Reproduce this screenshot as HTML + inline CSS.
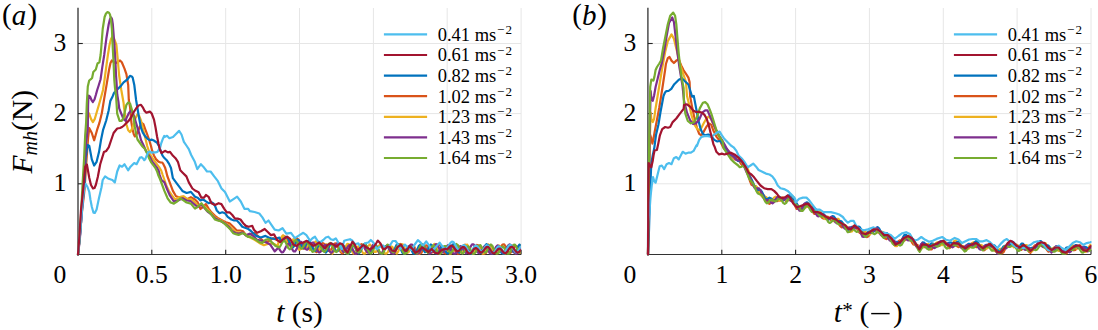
<!DOCTYPE html>
<html><head><meta charset="utf-8"><style>
html,body{margin:0;padding:0;background:#fff;}
body{width:1098px;height:330px;overflow:hidden;}
svg{display:block;}
text{font-family:"Liberation Serif",serif;fill:#000;}
.tk{font-size:25.6px;}
.lg{font-size:18.5px;}
.sup{font-size:13px;}
.pl{font-size:29px;}
.al{font-size:29.5px;}
.sub{font-size:20px;}
.ast{font-size:21px;}
.gr{stroke:#e6e6e6;stroke-width:1;}
.axv{stroke:#404040;stroke-width:1.4;}
.axh{stroke:#333;stroke-width:1.1;}
.tkm{stroke:#262626;stroke-width:1.1;}
</style></head><body>
<svg width="1098" height="330" viewBox="0 0 1098 330">
<line x1="78.0" y1="43.5" x2="521.0" y2="43.5" class="gr"/>
<line x1="78.0" y1="113.6" x2="521.0" y2="113.6" class="gr"/>
<line x1="78.0" y1="183.8" x2="521.0" y2="183.8" class="gr"/>
<line x1="151.8" y1="8" x2="151.8" y2="254.5" class="gr"/>
<line x1="225.7" y1="8" x2="225.7" y2="254.5" class="gr"/>
<line x1="299.5" y1="8" x2="299.5" y2="254.5" class="gr"/>
<line x1="373.4" y1="8" x2="373.4" y2="254.5" class="gr"/>
<line x1="447.2" y1="8" x2="447.2" y2="254.5" class="gr"/>
<line x1="521.1" y1="8" x2="521.1" y2="254.5" class="gr"/>
<line x1="648.0" y1="43.5" x2="1091.0" y2="43.5" class="gr"/>
<line x1="648.0" y1="113.6" x2="1091.0" y2="113.6" class="gr"/>
<line x1="648.0" y1="183.8" x2="1091.0" y2="183.8" class="gr"/>
<line x1="721.8" y1="8" x2="721.8" y2="254.5" class="gr"/>
<line x1="795.6" y1="8" x2="795.6" y2="254.5" class="gr"/>
<line x1="869.4" y1="8" x2="869.4" y2="254.5" class="gr"/>
<line x1="943.3" y1="8" x2="943.3" y2="254.5" class="gr"/>
<line x1="1017.1" y1="8" x2="1017.1" y2="254.5" class="gr"/>
<line x1="1091.0" y1="8" x2="1091.0" y2="254.5" class="gr"/>
<line x1="78.0" y1="7.8" x2="78.0" y2="254.5" class="axv"/>
<line x1="77.5" y1="254.5" x2="521.1" y2="254.5" class="axh"/>
<line x1="78.0" y1="43.5" x2="82.8" y2="43.5" class="tkm"/>
<line x1="78.0" y1="113.6" x2="82.8" y2="113.6" class="tkm"/>
<line x1="78.0" y1="183.8" x2="82.8" y2="183.8" class="tkm"/>
<line x1="151.8" y1="254.5" x2="151.8" y2="249.7" class="tkm"/>
<line x1="225.7" y1="254.5" x2="225.7" y2="249.7" class="tkm"/>
<line x1="299.5" y1="254.5" x2="299.5" y2="249.7" class="tkm"/>
<line x1="373.4" y1="254.5" x2="373.4" y2="249.7" class="tkm"/>
<line x1="447.2" y1="254.5" x2="447.2" y2="249.7" class="tkm"/>
<line x1="521.1" y1="254.5" x2="521.1" y2="249.7" class="tkm"/>
<line x1="647.9" y1="7.8" x2="647.9" y2="254.5" class="axv"/>
<line x1="647.4" y1="254.5" x2="1091.0" y2="254.5" class="axh"/>
<line x1="647.9" y1="43.5" x2="652.7" y2="43.5" class="tkm"/>
<line x1="647.9" y1="113.6" x2="652.7" y2="113.6" class="tkm"/>
<line x1="647.9" y1="183.8" x2="652.7" y2="183.8" class="tkm"/>
<line x1="721.8" y1="254.5" x2="721.8" y2="249.7" class="tkm"/>
<line x1="795.6" y1="254.5" x2="795.6" y2="249.7" class="tkm"/>
<line x1="869.4" y1="254.5" x2="869.4" y2="249.7" class="tkm"/>
<line x1="943.3" y1="254.5" x2="943.3" y2="249.7" class="tkm"/>
<line x1="1017.1" y1="254.5" x2="1017.1" y2="249.7" class="tkm"/>
<line x1="1091.0" y1="254.5" x2="1091.0" y2="249.7" class="tkm"/>
<g fill="none" stroke-width="2.2" stroke-linejoin="round" stroke-linecap="round">
<clipPath id="cl"><rect x="70" y="0" width="450.8" height="260"/></clipPath><clipPath id="cr"><rect x="640" y="0" width="451.5" height="260"/></clipPath>
<g clip-path="url(#cl)"><path d="M78.0 254.3 L80.0 235.0 L82.0 212.0 L84.5 190.0 L86.5 160.0 L88.1 137.9 L89.3 128.2 L91.8 133.0 L94.2 140.3 L97.0 130.2 L99.4 122.9 L101.8 113.2 L104.2 98.6 L106.7 84.1 L109.1 69.5 L110.5 63.0 L111.8 60.5 L113.6 62.0 L115.5 63.2 L117.3 62.3 L120.0 60.5 L121.8 62.3 L124.5 68.6 L126.4 74.1 L128.2 85.0 L128.8 100.0 L130.1 107.3 L130.7 114.5 L131.3 121.8 L132.5 129.1 L133.7 133.9 L134.9 136.4 L136.1 135.2 L137.9 131.5 L139.8 126.7 L141.6 123.0 L143.4 124.2 L145.2 129.1 L147.0 133.9 L148.8 138.8 L150.9 145.7 L152.1 150.5 L153.9 155.4 L155.9 159.1 L158.2 161.4 L160.5 162.5 L162.3 162.5 L163.5 164.4 L165.0 167.4 L166.1 171.2 L167.3 176.0 L169.7 182.4 L172.9 190.9 L176.0 196.2 L179.2 197.2 L182.4 196.8 L186.6 199.4 L190.9 197.2 L195.0 199.5 L197.7 202.3 L200.5 209.0 L203.2 206.8 L205.9 204.1 L208.6 208.6 L211.4 212.3 L215.0 215.9 L218.6 218.6 L222.3 220.5 L225.9 222.3 L229.5 223.2 L233.2 226.8 L236.8 230.5 L240.5 230.5 L243.2 231.4 L245.9 235.0 L250.0 234.4 L254.6 232.8 L259.3 237.5 L263.9 241.3 L268.5 241.3 L273.2 238.2 L277.8 240.5 L279.0 241.0 L280.5 239.2 L282.0 236.9 L283.5 235.7 L285.0 236.5 L286.5 239.1 L288.0 242.4 L289.5 244.9 L291.0 245.5 L292.5 243.9 L294.0 241.2 L295.5 238.8 L297.0 238.2 L298.5 239.8 L300.0 243.1 L301.5 246.6 L303.0 248.7 L304.5 248.7 L306.0 246.8 L307.5 244.3 L309.0 242.6 L310.5 242.9 L312.0 245.2 L313.5 248.5 L315.0 251.2 L316.5 252.1 L318.0 250.7 L319.5 247.7 L321.0 244.7 L322.5 243.1 L324.0 243.7 L325.5 246.2 L327.0 249.1 L328.5 251.0 L330.0 251.0 L331.5 248.9 L333.0 246.0 L334.5 243.7 L336.0 243.4 L337.5 245.4 L339.0 248.7 L340.5 251.8 L342.0 253.4 L343.5 252.7 L345.0 250.3 L346.5 247.5 L348.0 245.9 L349.5 246.2 L351.0 248.4 L352.5 251.4 L354.0 253.5 L355.5 253.6 L357.0 251.5 L358.5 248.3 L360.0 245.3 L361.5 244.1 L363.0 245.1 L364.5 247.7 L366.0 250.6 L367.5 252.3 L369.0 251.9 L370.5 249.7 L372.0 246.9 L373.5 245.0 L375.0 245.2 L376.5 247.5 L378.0 250.9 L379.5 253.6 L381.0 253.6 L382.5 253.3 L384.0 250.5 L385.5 247.5 L387.0 245.9 L388.5 246.5 L390.0 248.8 L391.5 251.5 L393.0 253.1 L394.5 252.7 L396.0 250.3 L397.5 247.1 L399.0 244.5 L400.5 243.9 L402.0 245.5 L403.5 248.6 L405.0 251.5 L406.5 253.0 L408.0 252.3 L409.5 250.0 L411.0 247.3 L412.5 245.8 L414.0 246.4 L415.5 248.9 L417.0 252.0 L418.5 253.6 L420.0 253.6 L421.5 252.7 L423.0 249.5 L424.5 246.6 L426.0 245.3 L427.5 246.1 L429.0 248.6 L430.5 251.3 L432.0 252.6 L433.5 251.9 L435.0 249.4 L436.5 246.4 L438.0 244.4 L439.5 244.4 L441.0 246.6 L442.5 250.0 L444.0 252.8 L445.5 253.6 L447.0 252.9 L448.5 250.3 L450.0 247.6 L451.5 246.3 L453.0 247.1 L454.5 249.6 L456.0 252.6 L457.5 253.6 L459.0 253.6 L460.5 251.5 L462.0 248.2 L463.5 245.4 L465.0 244.6 L466.5 245.9 L468.0 248.7 L469.5 251.4 L471.0 252.6 L472.5 251.7 L474.0 249.2 L475.5 246.4 L477.0 244.9 L478.5 245.5 L480.0 248.1 L481.5 251.5 L483.0 253.6 L484.5 253.6 L486.0 253.0 L487.5 250.1 L489.0 247.4 L490.5 246.3 L492.0 247.3 L493.5 249.8 L495.0 252.5 L496.5 253.6 L498.0 252.9 L499.5 250.2 L501.0 246.9 L502.5 244.5 L504.0 244.3 L505.5 246.2 L507.0 249.3 L508.5 252.1 L510.0 253.1 L511.5 251.9 L513.0 249.4 L514.5 246.8 L516.0 245.8 L517.5 246.8 L519.0 249.6 L520.5 252.8" stroke="#D95319"/>
<path d="M78.0 254.3 L80.0 232.0 L82.0 205.0 L84.5 170.0 L86.5 145.0 L87.2 130.0 L87.6 118.0 L88.1 112.4 L89.3 114.2 L91.1 119.1 L92.9 122.1 L94.7 119.1 L96.5 113.0 L99.0 104.5 L101.4 96.0 L103.0 90.0 L104.5 80.0 L106.2 67.1 L107.9 55.0 L109.5 45.0 L111.0 39.0 L112.4 36.4 L114.2 39.0 L116.4 45.0 L117.8 60.0 L119.1 75.0 L121.3 90.0 L123.6 103.0 L124.0 107.3 L126.4 124.2 L128.2 130.3 L130.1 132.1 L131.9 129.1 L133.7 124.2 L135.5 118.2 L137.3 114.5 L139.2 115.8 L141.0 120.6 L142.8 127.9 L144.6 135.2 L145.8 140.0 L147.2 146.0 L149.8 153.8 L152.1 157.6 L154.8 161.4 L157.0 164.4 L159.3 167.4 L161.2 170.5 L162.7 175.0 L164.5 180.0 L166.5 186.0 L169.0 191.0 L171.8 195.1 L175.0 199.4 L179.2 197.2 L183.5 196.2 L187.7 199.4 L191.0 199.0 L195.0 202.5 L198.5 206.0 L201.5 205.0 L204.5 206.5 L208.0 210.0 L211.5 213.5 L215.0 217.5 L218.5 219.5 L222.0 221.0 L225.5 223.5 L229.0 225.5 L232.5 229.5 L236.0 232.0 L240.0 232.5 L243.5 233.0 L246.5 236.0 L250.0 237.5 L254.6 239.8 L259.3 242.9 L263.9 245.2 L268.5 243.6 L273.2 243.6 L277.8 246.0 L278.3 243.0 L279.8 241.0 L281.3 237.6 L282.8 235.5 L284.3 236.5 L285.8 240.0 L287.3 243.7 L288.8 245.4 L290.3 244.1 L291.8 241.2 L293.3 239.1 L294.8 239.9 L296.3 243.4 L297.8 247.6 L299.3 249.9 L300.8 249.0 L302.3 245.9 L303.8 242.9 L305.3 242.3 L306.8 244.6 L308.3 248.0 L309.8 250.1 L311.3 249.3 L312.8 245.9 L314.3 242.5 L315.8 241.3 L317.3 243.3 L318.8 247.2 L320.3 250.3 L321.8 250.8 L323.3 248.5 L324.8 245.4 L326.3 244.2 L327.8 245.9 L329.3 249.7 L330.8 253.0 L332.3 253.6 L333.8 251.1 L335.3 247.3 L336.8 244.7 L338.3 245.1 L339.8 247.9 L341.3 251.0 L342.8 252.0 L344.3 250.0 L345.8 246.4 L347.3 243.8 L348.8 244.0 L350.3 247.2 L351.8 251.1 L353.3 253.3 L354.8 252.5 L356.3 249.4 L357.8 246.6 L359.3 246.2 L360.8 248.6 L362.3 252.2 L363.8 253.6 L365.3 253.3 L366.8 249.7 L368.3 246.0 L369.8 244.4 L371.3 246.0 L372.8 249.3 L374.3 252.0 L375.8 251.9 L377.3 249.3 L378.8 245.9 L380.3 244.5 L381.8 246.1 L383.3 250.0 L384.8 253.5 L386.3 253.6 L387.8 252.2 L389.3 248.6 L390.8 246.3 L392.3 246.8 L393.8 249.7 L395.3 252.7 L396.8 253.6 L398.3 251.3 L399.8 247.4 L401.3 244.4 L402.8 244.3 L404.3 247.1 L405.8 250.7 L407.3 252.7 L408.8 251.7 L410.3 248.6 L411.8 245.9 L413.3 245.7 L414.8 248.4 L416.3 252.3 L417.8 253.6 L419.3 253.6 L420.8 250.7 L422.3 247.1 L423.8 245.6 L425.3 247.1 L426.8 250.3 L428.3 252.7 L429.8 252.4 L431.3 249.3 L432.8 245.7 L434.3 243.9 L435.8 245.4 L437.3 249.1 L438.8 252.5 L440.3 253.5 L441.8 251.5 L443.3 248.2 L444.8 246.2 L446.3 247.1 L447.8 250.3 L449.3 253.6 L450.8 253.6 L452.3 252.5 L453.8 248.6 L455.3 245.5 L456.8 245.1 L458.3 247.6 L459.8 250.9 L461.3 252.6 L462.8 251.3 L464.3 247.9 L465.8 245.0 L467.3 244.7 L468.8 247.5 L470.3 251.5 L471.8 253.6 L473.3 253.6 L474.8 250.9 L476.3 247.6 L477.8 246.4 L479.3 248.1 L480.8 251.5 L482.3 253.6 L483.8 253.5 L485.3 250.3 L486.8 246.4 L488.3 244.3 L489.8 245.4 L491.3 248.8 L492.8 251.9 L494.3 252.7 L495.8 250.6 L497.3 247.3 L498.8 245.4 L500.3 246.4 L501.8 249.9 L503.3 253.6 L504.8 253.6 L506.3 253.2 L507.8 249.5 L509.3 246.6 L510.8 246.3 L512.3 248.8 L513.8 252.0 L515.3 253.4 L516.8 251.8 L518.3 248.1 L519.8 244.9" stroke="#EDB120"/>
<path d="M78.0 254.3 L80.0 235.0 L82.0 210.0 L84.5 183.6 L85.7 157.0 L87.6 144.8 L89.3 146.0 L91.8 159.4 L94.2 165.5 L96.6 161.8 L99.0 152.1 L101.0 140.0 L103.0 130.2 L106.2 120.5 L108.6 110.8 L110.3 101.1 L112.7 96.2 L114.0 93.0 L116.4 90.2 L117.3 89.5 L120.9 85.9 L123.6 82.3 L127.3 79.5 L130.0 75.9 L131.8 76.5 L132.7 77.7 L134.3 85.0 L135.5 95.0 L136.1 100.0 L137.3 107.3 L138.5 114.5 L139.8 121.8 L141.0 127.9 L142.8 132.7 L145.2 136.4 L147.6 138.8 L149.7 140.2 L151.5 139.6 L153.3 140.2 L155.2 141.5 L157.0 142.7 L158.8 145.7 L160.6 150.5 L162.4 155.4 L164.2 157.8 L166.7 160.2 L169.1 163.9 L171.0 168.0 L172.9 178.2 L176.0 182.4 L179.2 186.6 L182.4 190.9 L186.6 193.0 L190.9 191.9 L195.0 196.8 L197.7 197.7 L200.5 200.5 L203.2 199.5 L205.9 201.4 L208.6 203.2 L211.4 202.3 L213.2 203.2 L215.0 205.9 L216.8 210.5 L219.5 213.2 L222.3 212.3 L225.0 213.2 L227.7 216.8 L231.4 219.5 L234.1 220.5 L236.8 220.5 L239.5 223.2 L242.3 226.8 L245.0 227.7 L247.7 228.6 L251.0 231.0 L256.2 235.9 L260.8 237.5 L265.5 235.9 L270.1 238.2 L274.7 239.0 L279.4 237.5 L280.9 240.9 L282.4 241.4 L283.9 239.5 L285.4 237.3 L286.9 236.9 L288.4 239.2 L289.9 243.3 L291.4 246.8 L292.9 247.7 L294.4 245.7 L295.9 242.2 L297.4 239.9 L298.9 240.2 L300.4 243.1 L301.9 246.5 L303.4 248.2 L304.9 247.0 L306.4 243.9 L307.9 241.1 L309.4 240.7 L310.9 243.3 L312.4 247.3 L313.9 250.5 L315.4 251.0 L316.9 248.7 L318.4 245.6 L319.9 244.0 L321.4 245.2 L322.9 248.5 L324.4 251.7 L325.9 252.7 L327.4 250.7 L328.9 247.0 L330.4 243.9 L331.9 243.5 L333.4 245.8 L334.9 249.2 L336.4 251.4 L337.9 250.9 L339.4 248.1 L340.9 245.1 L342.4 244.1 L343.9 246.1 L345.4 249.9 L346.9 253.2 L348.4 253.6 L349.9 251.9 L351.4 248.4 L352.9 246.0 L354.4 246.2 L355.9 248.9 L357.4 252.0 L358.9 253.3 L360.4 251.7 L361.9 248.1 L363.4 244.7 L364.9 243.8 L366.4 245.9 L367.9 249.5 L369.4 252.3 L370.9 252.5 L372.4 250.1 L373.9 247.0 L375.4 245.5 L376.9 246.8 L378.4 250.2 L379.9 253.6 L381.4 253.6 L382.9 252.8 L384.4 249.1 L385.9 246.0 L387.4 245.5 L388.9 247.6 L390.4 250.8 L391.9 252.7 L393.4 251.7 L394.9 248.5 L396.4 245.2 L397.9 243.9 L399.4 245.7 L400.9 249.4 L402.4 252.7 L403.9 253.6 L405.4 251.7 L406.9 248.4 L408.4 246.3 L409.9 246.8 L411.4 249.7 L412.9 253.1 L414.4 253.6 L415.9 252.9 L417.4 249.3 L418.9 245.8 L420.4 244.6 L421.9 246.4 L423.4 249.7 L424.9 252.1 L426.4 252.0 L427.9 249.4 L429.4 246.2 L430.9 244.5 L432.4 245.9 L433.9 249.5 L435.4 253.1 L436.9 253.6 L438.4 252.9 L439.9 249.6 L441.4 246.8 L442.9 246.5 L444.4 248.8 L445.9 252.0 L447.4 253.6 L448.9 252.8 L450.4 249.3 L451.9 245.7 L453.4 244.1 L454.9 245.5 L456.4 248.9 L457.9 252.0 L459.4 252.7 L460.9 250.7 L462.4 247.5 L463.9 245.5 L465.4 246.3 L466.9 249.5 L468.4 253.2 L469.9 253.6 L471.4 253.6 L472.9 250.3 L474.4 246.9 L475.9 245.8 L477.4 247.5 L478.9 250.7 L480.4 252.9 L481.9 252.5 L483.4 249.6 L484.9 246.0 L486.4 244.1 L487.9 245.2 L489.4 248.6 L490.9 252.1 L492.4 253.6 L493.9 252.2 L495.4 249.0 L496.9 246.6 L498.4 246.6 L499.9 249.2 L501.4 252.8 L502.9 253.6 L504.4 253.6 L505.9 250.6 L507.4 246.9 L508.9 245.1 L510.4 246.3 L511.9 249.4 L513.4 252.1 L514.9 252.5 L516.4 250.2 L517.9 246.8 L519.4 244.6 L520.9 245.3" stroke="#0072BD"/>
<path d="M78.0 254.3 L79.8 240.0 L81.5 215.0 L83.5 185.0 L85.5 150.0 L87.8 127.7 L88.1 105.0 L88.3 100.0 L88.7 95.5 L90.0 96.5 L91.5 100.0 L92.9 102.0 L94.5 99.5 L95.9 94.8 L97.2 90.0 L98.5 86.0 L100.6 79.2 L102.3 67.1 L104.2 55.0 L106.3 38.8 L108.7 24.2 L110.0 19.0 L111.2 17.5 L112.0 19.0 L112.8 24.2 L114.3 43.6 L115.5 63.0 L116.0 75.0 L116.5 82.0 L117.2 94.2 L118.4 101.5 L119.2 108.3 L121.0 113.0 L122.5 116.7 L124.0 119.5 L125.8 120.8 L126.4 118.2 L128.8 113.3 L130.7 110.9 L132.5 112.1 L134.3 117.0 L136.1 123.0 L137.9 129.1 L139.8 135.2 L141.0 140.0 L143.6 145.5 L146.0 151.0 L149.8 156.8 L152.1 161.4 L154.4 164.4 L156.7 167.4 L158.6 170.5 L159.7 175.0 L161.5 180.0 L164.4 182.4 L167.0 189.0 L169.7 195.1 L173.9 201.5 L178.2 200.4 L182.4 198.3 L186.5 200.5 L190.5 201.0 L194.0 204.0 L197.5 207.0 L201.0 204.5 L204.5 208.0 L207.5 211.5 L211.0 214.0 L214.5 218.0 L218.0 220.0 L221.5 221.5 L225.0 223.5 L228.5 226.5 L232.0 231.0 L235.5 233.0 L239.0 233.5 L242.5 232.5 L246.0 235.5 L250.0 233.6 L253.1 235.9 L257.0 239.8 L260.8 240.5 L265.5 242.1 L270.1 244.4 L274.7 251.4 L278.6 247.5 L280.1 250.4 L281.6 252.4 L283.1 252.1 L284.6 249.8 L286.1 246.5 L287.6 244.2 L289.1 244.1 L290.6 246.1 L292.1 249.1 L293.6 251.3 L295.1 251.4 L296.6 249.1 L298.1 245.6 L299.6 242.7 L301.1 241.8 L302.6 243.3 L304.1 246.3 L305.6 249.0 L307.1 249.8 L308.6 248.4 L310.1 245.6 L311.6 243.0 L313.1 242.4 L314.6 244.1 L316.1 247.6 L317.6 251.0 L319.1 252.6 L320.6 251.8 L322.1 249.2 L323.6 246.3 L325.1 244.8 L326.6 245.7 L328.1 248.4 L329.6 251.3 L331.1 252.8 L332.6 251.8 L334.1 248.9 L335.6 245.5 L337.1 243.4 L338.6 243.7 L340.1 246.2 L341.6 249.5 L343.1 251.8 L344.6 251.9 L346.1 249.9 L347.6 247.1 L349.1 245.1 L350.6 245.4 L352.1 247.9 L353.6 251.4 L355.1 253.6 L356.6 253.6 L358.1 252.5 L359.6 249.2 L361.1 246.4 L362.6 245.5 L364.1 246.9 L365.6 249.7 L367.1 252.2 L368.6 252.7 L370.1 250.9 L371.6 247.7 L373.1 244.8 L374.6 243.8 L376.1 245.3 L377.6 248.5 L379.1 251.7 L380.6 253.4 L382.1 252.6 L383.6 250.0 L385.1 247.3 L386.6 246.0 L388.1 247.0 L389.6 249.9 L391.1 252.9 L392.6 253.6 L394.1 253.6 L395.6 250.8 L397.1 247.3 L398.6 245.0 L400.1 245.1 L401.6 247.3 L403.1 250.3 L404.6 252.2 L406.1 252.0 L407.6 249.7 L409.1 246.6 L410.6 244.6 L412.1 244.7 L413.6 247.2 L415.1 250.8 L416.6 253.6 L418.1 253.6 L419.6 252.5 L421.1 249.5 L422.6 246.9 L424.1 246.3 L425.6 248.0 L427.1 250.9 L428.6 253.4 L430.1 253.6 L431.6 252.0 L433.1 248.6 L434.6 245.4 L436.1 244.1 L437.6 245.3 L439.1 248.2 L440.6 251.2 L442.1 252.6 L443.6 251.7 L445.1 249.1 L446.6 246.4 L448.1 245.2 L449.6 246.4 L451.1 249.5 L452.6 252.9 L454.1 253.6 L455.6 253.6 L457.1 251.6 L458.6 248.3 L460.1 246.2 L461.6 246.3 L463.1 248.5 L464.6 251.4 L466.1 253.2 L467.6 252.7 L469.1 250.1 L470.6 246.7 L472.1 244.3 L473.6 244.3 L475.1 246.5 L476.6 249.9 L478.1 252.7 L479.6 253.3 L481.1 251.7 L482.6 248.8 L484.1 246.5 L485.6 246.2 L487.1 248.2 L488.6 251.4 L490.1 253.6 L491.6 253.6 L493.1 253.1 L494.6 249.8 L496.1 246.7 L497.6 245.3 L499.1 246.3 L500.6 249.0 L502.1 251.7 L503.6 252.8 L505.1 251.6 L506.6 248.7 L508.1 245.7 L509.6 244.4 L511.1 245.5 L512.6 248.6 L514.1 252.0 L515.6 253.6 L517.1 253.6 L518.6 251.4 L520.1 248.4" stroke="#7E2F8E"/>
<path d="M78.0 254.3 L79.5 240.0 L81.0 215.0 L82.5 185.0 L84.0 160.0 L85.2 135.0 L86.1 122.9 L86.8 103.5 L87.8 86.5 L89.2 80.5 L90.9 79.2 L92.1 78.0 L93.3 72.0 L95.8 69.5 L97.5 63.5 L99.4 62.3 L100.6 55.0 L101.2 48.5 L102.7 29.0 L104.6 17.0 L106.0 13.5 L107.5 12.1 L109.0 12.8 L110.0 14.5 L111.0 20.0 L111.9 29.0 L112.8 48.5 L113.6 63.0 L114.3 80.0 L115.0 88.0 L116.0 95.0 L117.2 113.6 L119.6 120.9 L121.5 121.0 L123.3 118.5 L126.4 104.8 L128.2 102.4 L130.1 103.6 L131.9 109.7 L133.7 118.2 L134.9 126.7 L136.1 133.9 L137.5 139.5 L140.0 143.0 L142.5 146.5 L145.0 149.0 L147.6 154.5 L149.1 158.3 L151.0 162.1 L153.3 165.2 L155.5 168.2 L157.0 171.2 L158.2 175.0 L160.0 179.0 L161.5 183.0 L164.4 190.9 L167.6 198.3 L170.7 202.5 L173.9 203.6 L177.1 201.5 L180.3 198.3 L183.5 200.4 L186.6 202.5 L190.9 203.6 L195.0 208.6 L197.7 206.8 L201.4 203.2 L204.1 206.8 L206.8 210.5 L209.5 212.3 L212.3 215.9 L215.0 219.5 L217.7 220.5 L221.4 221.4 L225.0 224.1 L227.7 226.8 L230.5 229.5 L233.2 233.2 L235.9 234.1 L238.6 235.0 L242.3 233.2 L245.0 234.1 L247.7 236.8 L250.0 236.7 L253.1 238.2 L256.2 239.8 L259.3 242.1 L262.4 242.9 L265.5 239.8 L268.5 239.0 L272.4 242.9 L275.5 246.0 L279.4 247.5 L280.9 245.1 L282.4 242.1 L283.9 240.7 L285.4 241.9 L286.9 245.1 L288.4 248.2 L289.9 249.3 L291.4 247.6 L292.9 244.2 L294.4 241.0 L295.9 240.1 L297.4 241.9 L298.9 245.3 L300.4 248.1 L301.9 248.7 L303.4 246.7 L304.9 243.7 L306.4 241.7 L307.9 242.4 L309.4 245.5 L310.9 249.3 L312.4 251.8 L313.9 251.5 L315.4 248.9 L316.9 245.6 L318.4 244.0 L319.9 244.9 L321.4 247.9 L322.9 250.9 L324.4 251.9 L325.9 250.2 L327.4 246.7 L328.9 243.7 L330.4 242.9 L331.9 244.8 L333.4 248.4 L334.9 251.3 L336.4 252.0 L337.9 250.1 L339.4 247.1 L340.9 245.1 L342.4 245.6 L343.9 248.4 L345.4 252.0 L346.9 253.6 L348.4 253.6 L349.9 250.6 L351.4 247.0 L352.9 245.1 L354.4 245.8 L355.9 248.6 L357.4 251.5 L358.9 252.5 L360.4 250.9 L361.9 247.5 L363.4 244.6 L364.9 243.9 L366.4 246.1 L367.9 249.8 L369.4 252.8 L370.9 253.5 L372.4 251.6 L373.9 248.5 L375.4 246.3 L376.9 246.5 L378.4 249.2 L379.9 252.5 L381.4 253.6 L382.9 253.5 L384.4 250.3 L385.9 246.6 L387.4 244.6 L388.9 245.3 L390.4 248.2 L391.9 251.2 L393.4 252.4 L394.9 250.9 L396.4 247.8 L397.9 245.1 L399.4 244.7 L400.9 246.9 L402.4 250.7 L403.9 253.6 L405.4 253.6 L406.9 252.2 L408.4 248.9 L409.9 246.5 L411.4 246.5 L412.9 248.9 L414.4 252.0 L415.9 253.6 L417.4 252.7 L418.9 249.5 L420.4 245.9 L421.9 244.0 L423.4 245.0 L424.9 248.0 L426.4 251.3 L427.9 252.8 L429.4 251.5 L430.9 248.6 L432.4 246.0 L433.9 245.6 L435.4 247.8 L436.9 251.4 L438.4 253.6 L439.9 253.6 L441.4 252.4 L442.9 248.8 L444.4 246.1 L445.9 246.0 L447.4 248.2 L448.9 251.3 L450.4 253.0 L451.9 252.1 L453.4 249.0 L454.9 245.6 L456.4 244.0 L457.9 245.2 L459.4 248.5 L460.9 252.0 L462.4 253.6 L463.9 252.4 L465.4 249.5 L466.9 246.8 L468.4 246.3 L469.9 248.3 L471.4 251.7 L472.9 253.6 L474.4 253.6 L475.9 252.0 L477.4 248.2 L478.9 245.5 L480.4 245.2 L481.9 247.5 L483.4 250.7 L484.9 252.6 L486.4 251.9 L487.9 249.1 L489.4 245.9 L490.9 244.5 L492.4 245.9 L493.9 249.3 L495.4 252.9 L496.9 253.6 L498.4 253.2 L499.9 250.2 L501.4 247.3 L502.9 246.5 L504.4 248.3 L505.9 251.5 L507.4 253.6 L508.9 253.6 L510.4 251.3 L511.9 247.5 L513.4 244.8 L514.9 244.7 L516.4 247.1 L517.9 250.5 L519.4 252.7 L520.9 252.2" stroke="#77AC30"/>
<path d="M78.0 254.3 L80.0 235.0 L82.0 210.0 L83.3 194.5 L84.5 187.0 L85.7 184.0 L87.5 187.0 L89.3 192.0 L90.5 200.0 L91.8 206.7 L93.5 212.7 L94.8 213.0 L96.6 209.5 L99.0 198.0 L101.5 187.3 L102.7 180.0 L105.1 176.4 L108.7 178.8 L112.4 180.0 L114.8 182.4 L117.2 171.5 L119.6 165.5 L122.1 166.7 L124.5 164.2 L128.1 170.3 L130.5 166.7 L134.2 163.0 L136.6 164.2 L140.0 157.6 L141.5 157.2 L143.0 158.3 L144.2 160.2 L145.3 159.1 L146.8 155.3 L148.3 152.3 L149.8 151.5 L151.7 152.7 L153.6 152.3 L155.5 152.3 L157.4 151.9 L158.6 150.0 L160.0 148.1 L161.2 143.3 L163.0 138.4 L164.2 136.0 L164.5 137.0 L167.0 135.8 L169.4 138.2 L173.0 137.0 L175.5 134.5 L179.1 130.9 L181.5 134.5 L183.9 141.8 L186.4 145.5 L188.8 149.1 L191.2 155.0 L194.8 161.8 L197.3 169.1 L200.9 164.2 L203.3 166.7 L207.0 171.5 L210.6 171.5 L214.2 176.4 L217.9 181.2 L221.5 188.5 L225.0 192.0 L227.4 196.7 L229.8 201.5 L233.5 199.1 L237.1 196.7 L240.8 201.5 L244.4 208.8 L248.0 208.8 L250.0 211.2 L254.6 212.0 L259.3 213.5 L262.4 217.4 L265.5 222.8 L268.5 220.5 L271.6 225.1 L274.7 229.7 L278.6 230.5 L282.5 228.2 L286.3 233.6 L291.0 232.8 L294.8 238.2 L299.5 235.1 L303.3 232.8 L306.4 235.1 L309.5 239.8 L310.0 240.8 L312.5 238.3 L315.0 236.7 L317.5 240.8 L320.0 242.5 L323.3 240.0 L325.8 237.5 L328.3 236.7 L330.8 239.2 L333.3 240.0 L335.8 238.3 L338.3 242.5 L341.7 249.2 L344.2 240.8 L346.7 240.0 L350.0 239.2 L352.5 240.8 L355.0 244.2 L358.3 243.3 L361.7 248.3 L365.0 243.3 L368.3 242.5 L370.8 240.0 L373.3 242.5 L376.7 249.2 L379.7 246.9 L382.9 245.4 L386.0 248.1 L389.2 246.5 L392.7 241.0 L395.5 241.0 L397.8 244.2 L400.2 248.9 L402.6 246.9 L404.9 244.6 L408.1 248.1 L411.2 250.1 L414.4 245.0 L417.9 240.2 L420.7 242.6 L423.0 245.7 L426.2 241.4 L429.3 245.7 L431.7 250.9 L434.8 248.1 L439.6 242.6 L442.7 246.9 L445.9 249.7 L449.0 245.0 L450.5 242.9 L452.0 241.5 L453.5 242.0 L455.0 244.3 L456.5 247.5 L458.0 249.6 L459.5 249.7 L461.0 248.0 L462.5 245.9 L464.0 245.0 L465.5 246.2 L467.0 248.9 L468.5 251.7 L470.0 252.9 L471.5 251.8 L473.0 249.1 L474.5 246.5 L476.0 245.5 L477.5 246.6 L479.0 249.0 L480.5 251.0 L482.0 251.3 L483.5 249.6 L485.0 247.0 L486.5 245.2 L488.0 245.6 L489.5 247.9 L491.0 250.9 L492.5 252.9 L494.0 252.7 L495.5 250.5 L497.0 247.9 L498.5 246.4 L500.0 246.9 L501.5 249.0 L503.0 251.3 L504.5 252.0 L506.0 250.6 L507.5 247.9 L509.0 245.4 L510.5 244.8 L512.0 246.3 L513.5 249.2 L515.0 251.7 L516.5 252.4 L518.0 251.0 L519.5 248.5 L521.0 246.7" stroke="#4DBEEE"/>
<path d="M78.0 254.3 L79.5 235.0 L81.0 210.0 L83.3 188.5 L85.2 166.7 L86.9 164.5 L89.3 178.0 L91.0 185.0 L93.0 188.5 L94.5 188.0 L95.8 185.0 L97.8 177.0 L100.2 164.2 L103.9 152.1 L106.3 150.9 L108.7 147.3 L111.2 140.0 L113.6 133.0 L117.2 128.5 L120.0 128.0 L122.1 127.0 L124.0 125.5 L126.4 123.0 L128.8 120.6 L131.3 117.0 L133.7 112.1 L136.1 108.5 L138.5 105.5 L141.0 104.8 L142.8 107.3 L144.6 110.9 L146.4 112.7 L148.2 112.1 L149.9 111.5 L151.7 113.5 L154.0 119.6 L155.5 127.2 L157.0 136.2 L158.5 143.8 L160.0 149.9 L161.5 153.0 L162.7 152.3 L165.0 150.8 L167.9 152.4 L170.0 151.8 L173.0 155.8 L175.5 158.2 L177.9 161.8 L180.3 170.3 L182.7 172.7 L186.4 176.4 L188.8 182.4 L192.4 188.5 L195.0 190.5 L198.6 192.3 L201.4 197.7 L204.1 197.7 L205.9 195.0 L208.6 196.8 L211.4 203.2 L215.0 205.0 L218.6 203.2 L221.4 204.1 L224.1 208.6 L226.8 212.3 L229.5 212.3 L232.3 215.0 L235.0 218.6 L237.7 218.6 L240.5 219.5 L243.2 223.2 L245.9 225.9 L248.6 226.8 L250.5 226.3 L252.3 225.9 L253.9 229.7 L257.0 232.8 L260.8 231.3 L264.7 229.0 L267.8 232.0 L270.9 235.1 L274.0 234.4 L277.0 239.8 L280.1 242.1 L283.2 239.0 L287.1 236.7 L290.2 239.0 L293.3 244.4 L296.4 246.0 L299.5 243.6 L300.0 243.3 L303.3 242.5 L306.7 240.8 L310.0 243.3 L313.3 245.8 L316.7 244.2 L319.2 242.5 L321.7 245.0 L325.0 248.3 L327.5 245.0 L330.8 243.3 L334.2 245.0 L336.7 246.7 L340.0 243.3 L342.5 244.2 L345.0 250.0 L347.5 252.5 L350.0 246.7 L352.5 241.7 L355.0 245.0 L357.5 250.8 L360.0 248.3 L363.3 245.0 L366.7 247.5 L370.0 249.2 L373.3 247.5 L376.7 242.5 L377.8 240.6 L380.5 243.4 L382.9 248.9 L385.2 248.9 L387.6 246.5 L390.0 247.3 L391.9 250.5 L394.7 251.3 L397.8 246.9 L401.0 244.6 L404.1 249.7 L406.5 250.9 L409.6 246.1 L412.4 248.9 L415.2 252.8 L418.3 251.3 L422.2 247.3 L425.4 249.7 L428.5 252.0 L431.7 248.9 L434.8 252.8 L438.0 253.6 L441.1 250.5 L444.3 248.9 L447.4 249.3 L448.9 247.5 L450.4 245.9 L451.9 245.6 L453.4 246.8 L454.9 249.0 L456.4 250.8 L457.9 251.3 L459.4 250.3 L460.9 248.4 L462.4 247.0 L463.9 247.0 L465.4 248.6 L466.9 251.1 L468.4 253.1 L469.9 253.6 L471.4 252.5 L472.9 250.4 L474.4 248.5 L475.9 248.0 L477.4 248.9 L478.9 250.8 L480.4 252.2 L481.9 252.3 L483.4 250.9 L484.9 248.8 L486.4 247.0 L487.9 246.8 L489.4 248.3 L490.9 250.6 L492.4 252.7 L493.9 253.4 L495.4 252.4 L496.9 250.5 L498.4 248.8 L499.9 248.5 L501.4 249.6 L502.9 251.5 L504.4 253.0 L505.9 253.1 L507.4 251.5 L508.9 249.1 L510.4 247.2 L511.9 246.7 L513.4 247.9 L514.9 250.1 L516.4 252.0 L517.9 252.6 L519.4 251.7 L520.9 249.9" stroke="#A2142F"/></g>
<g clip-path="url(#cr)"><path d="M648.0 254.3 L648.8 200.0 L649.5 150.0 L650.1 134.5 L651.2 138.0 L652.4 143.6 L653.5 138.5 L654.6 132.3 L656.9 120.2 L659.2 108.0 L661.0 97.0 L663.0 84.0 L665.1 70.0 L665.9 64.0 L667.8 58.2 L669.5 57.0 L671.5 60.6 L673.9 63.0 L676.3 60.6 L678.7 59.4 L681.2 65.5 L683.6 70.3 L686.0 73.9 L688.4 77.6 L689.6 82.0 L690.1 96.0 L692.3 108.1 L694.6 118.7 L696.9 127.8 L699.2 133.9 L701.4 135.4 L703.7 131.6 L706.7 126.3 L709.0 123.3 L711.3 124.8 L713.5 130.8 L716.6 136.9 L720.4 141.5 L723.0 147.0 L727.0 152.0 L731.0 156.0 L735.0 159.5 L736.5 158.1 L738.0 158.2 L739.5 160.9 L741.0 163.9 L742.5 165.7 L744.0 166.4 L745.5 166.9 L747.0 170.2 L748.5 175.6 L750.0 181.1 L751.5 184.8 L753.0 185.5 L754.5 185.6 L756.0 186.4 L757.5 189.0 L759.0 192.1 L760.5 194.0 L762.0 194.4 L763.5 194.8 L765.0 196.8 L766.5 200.0 L768.0 203.2 L769.5 203.8 L771.0 202.7 L772.5 200.6 L774.0 199.6 L775.5 200.2 L777.0 201.2 L778.5 200.6 L780.0 199.2 L781.5 197.5 L783.0 197.4 L784.5 199.1 L786.0 201.2 L787.5 200.8 L789.0 198.9 L790.5 197.6 L792.0 198.2 L793.5 200.8 L795.0 205.6 L796.5 208.9 L798.0 208.9 L799.5 208.2 L801.0 208.0 L802.5 207.7 L804.0 207.7 L805.5 206.9 L807.0 204.5 L808.5 203.3 L810.0 204.8 L811.5 208.1 L813.0 211.9 L814.5 214.0 L816.0 213.8 L817.5 213.3 L819.0 213.6 L820.5 215.4 L822.0 217.7 L823.5 218.6 L825.0 217.8 L826.5 216.5 L828.0 216.8 L829.5 218.3 L831.0 220.1 L832.5 220.7 L834.0 219.9 L835.5 219.0 L837.0 220.0 L838.5 222.6 L840.0 225.7 L841.5 227.3 L843.0 227.1 L844.5 226.0 L846.0 226.7 L847.5 229.3 L849.0 231.2 L850.5 231.3 L852.0 228.8 L853.5 226.0 L855.0 225.4 L856.5 227.8 L858.0 230.6 L859.5 232.7 L861.0 233.5 L862.5 233.7 L864.0 234.0 L865.5 235.9 L867.0 237.1 L868.5 236.3 L870.0 233.7 L871.5 230.7 L873.0 229.0 L874.5 229.8 L876.0 231.3 L877.5 231.6 L879.0 231.4 L880.5 231.2 L882.0 232.6 L883.5 235.7 L885.0 238.4 L886.5 239.1 L888.0 238.1 L889.5 237.8 L891.0 238.7 L892.5 241.3 L894.0 244.4 L895.5 246.0 L897.0 243.7 L898.5 241.2 L900.0 240.3 L901.5 240.6 L903.0 241.1 L904.5 240.5 L906.0 238.9 L907.5 237.1 L909.0 237.5 L910.5 239.8 L912.0 242.5 L913.5 244.5 L915.0 244.8 L916.5 244.5 L918.0 245.4 L919.5 247.9 L921.0 247.7 L922.5 246.5 L924.0 245.3 L925.5 244.0 L927.0 244.6 L928.5 247.0 L930.0 249.5 L931.5 249.5 L933.0 247.7 L934.5 245.5 L936.0 244.5 L937.5 245.1 L939.0 245.9 L940.5 245.2 L942.0 243.0 L943.5 240.7 L945.0 241.4 L946.5 243.8 L948.0 246.6 L949.5 248.1 L951.0 246.6 L952.5 244.1 L954.0 243.2 L955.5 244.7 L957.0 246.3 L958.5 247.1 L960.0 246.7 L961.5 245.9 L963.0 246.1 L964.5 247.8 L966.0 249.2 L967.5 248.4 L969.0 246.1 L970.5 243.9 L972.0 243.2 L973.5 244.6 L975.0 246.5 L976.5 247.2 L978.0 246.9 L979.5 246.3 L981.0 246.9 L982.5 249.1 L984.0 250.3 L985.5 249.3 L987.0 246.7 L988.5 244.2 L990.0 243.3 L991.5 245.7 L993.0 248.7 L994.5 250.5 L996.0 250.9 L997.5 250.8 L999.0 251.0 L1000.5 252.8 L1002.0 253.3 L1003.5 252.2 L1005.0 249.2 L1006.5 245.7 L1008.0 243.8 L1009.5 244.0 L1011.0 245.0 L1012.5 245.5 L1014.0 244.8 L1015.5 244.2 L1017.0 245.0 L1018.5 247.4 L1020.0 250.0 L1021.5 249.8 L1023.0 247.9 L1024.5 246.7 L1026.0 247.2 L1027.5 249.3 L1029.0 251.8 L1030.5 252.8 L1032.0 250.1 L1033.5 246.9 L1035.0 245.3 L1036.5 245.4 L1038.0 246.1 L1039.5 246.0 L1041.0 244.4 L1042.5 243.5 L1044.0 244.1 L1045.5 246.8 L1047.0 250.1 L1048.5 251.7 L1050.0 251.1 L1051.5 250.1 L1053.0 248.9 L1054.5 249.1 L1056.0 250.0 L1057.5 249.9 L1059.0 248.4 L1060.5 247.9 L1062.0 249.0 L1063.5 251.0 L1065.0 253.2 L1066.5 253.5 L1068.0 251.6 L1069.5 249.4 L1071.0 248.5 L1072.5 249.2 L1074.0 250.3 L1075.5 249.9 L1077.0 247.9 L1078.5 245.8 L1080.0 245.3 L1081.5 247.7 L1083.0 250.5 L1084.5 251.2 L1086.0 250.1 L1087.5 248.3 L1089.0 247.4 L1090.5 248.1" stroke="#D95319"/>
<path d="M648.0 254.3 L648.8 200.0 L649.8 140.0 L650.7 112.5 L651.3 118.8 L652.8 122.0 L654.1 118.8 L655.6 108.2 L657.7 95.5 L659.8 82.7 L661.9 70.0 L663.5 61.0 L665.4 50.9 L667.8 41.2 L671.5 34.4 L673.9 38.8 L676.3 48.5 L678.7 58.2 L681.2 67.9 L683.6 75.2 L686.0 82.0 L687.0 96.0 L689.3 105.1 L691.6 115.7 L694.6 124.8 L697.6 129.3 L699.9 130.1 L701.4 127.8 L703.7 123.3 L706.7 118.0 L709.0 116.5 L711.3 119.5 L713.5 124.8 L716.6 132.4 L720.4 138.4 L723.6 145.2 L727.0 150.0 L731.0 155.0 L735.0 158.5 L736.5 158.3 L738.0 157.3 L739.5 158.2 L741.0 160.5 L742.5 163.4 L744.0 165.5 L745.5 165.9 L747.0 167.3 L748.5 170.7 L750.0 175.8 L751.5 181.5 L753.0 184.8 L754.5 186.1 L756.0 186.3 L757.5 187.7 L759.0 190.8 L760.5 194.4 L762.0 196.6 L763.5 197.0 L765.0 196.9 L766.5 197.4 L768.0 199.5 L769.5 201.1 L771.0 201.6 L772.5 199.9 L774.0 197.6 L775.5 196.7 L777.0 198.0 L778.5 199.7 L780.0 200.9 L781.5 200.2 L783.0 198.9 L784.5 198.6 L786.0 199.9 L787.5 200.4 L789.0 199.7 L790.5 198.1 L792.0 196.5 L793.5 196.8 L795.0 201.0 L796.5 205.9 L798.0 208.3 L799.5 208.7 L801.0 207.7 L802.5 206.3 L804.0 206.4 L805.5 207.4 L807.0 207.0 L808.5 206.0 L810.0 205.5 L811.5 206.2 L813.0 208.8 L814.5 211.7 L816.0 212.9 L817.5 212.6 L819.0 211.4 L820.5 211.6 L822.0 214.0 L823.5 217.2 L825.0 219.1 L826.5 218.9 L828.0 218.1 L829.5 217.8 L831.0 219.1 L832.5 220.8 L834.0 221.3 L835.5 220.1 L837.0 218.8 L838.5 218.9 L840.0 221.1 L841.5 224.2 L843.0 226.2 L844.5 226.0 L846.0 225.9 L847.5 227.4 L849.0 229.5 L850.5 231.7 L852.0 231.4 L853.5 229.0 L855.0 226.5 L856.5 226.4 L858.0 228.0 L859.5 230.9 L861.0 232.9 L862.5 233.1 L864.0 231.8 L865.5 231.9 L867.0 233.1 L868.5 234.4 L870.0 234.5 L871.5 232.6 L873.0 230.1 L874.5 229.2 L876.0 230.4 L877.5 231.9 L879.0 233.2 L880.5 232.7 L882.0 231.9 L883.5 232.4 L885.0 234.1 L886.5 236.1 L888.0 237.0 L889.5 237.4 L891.0 237.4 L892.5 238.9 L894.0 242.2 L895.5 246.0 L897.0 246.2 L898.5 244.2 L900.0 241.6 L901.5 239.6 L903.0 239.0 L904.5 239.2 L906.0 238.8 L907.5 236.8 L909.0 235.3 L910.5 235.7 L912.0 238.1 L913.5 242.2 L915.0 245.1 L916.5 246.0 L918.0 246.1 L919.5 247.1 L921.0 246.8 L922.5 247.1 L924.0 247.5 L925.5 246.1 L927.0 244.3 L928.5 244.1 L930.0 245.6 L931.5 246.6 L933.0 246.5 L934.5 244.9 L936.0 242.9 L937.5 242.2 L939.0 243.2 L940.5 244.9 L942.0 245.1 L943.5 243.7 L945.0 242.9 L946.5 243.1 L948.0 245.0 L949.5 247.3 L951.0 246.9 L952.5 244.2 L954.0 241.3 L955.5 240.5 L957.0 241.8 L958.5 244.4 L960.0 246.5 L961.5 246.9 L963.0 246.3 L964.5 246.7 L966.0 248.2 L967.5 249.1 L969.0 248.5 L970.5 246.3 L972.0 243.5 L973.5 242.2 L975.0 242.9 L976.5 244.5 L978.0 245.8 L979.5 245.6 L981.0 244.9 L982.5 245.7 L984.0 247.1 L985.5 248.4 L987.0 248.5 L988.5 247.0 L990.0 244.8 L991.5 245.2 L993.0 247.4 L994.5 250.2 L996.0 251.8 L997.5 251.4 L999.0 249.4 L1000.5 248.8 L1002.0 248.8 L1003.5 249.2 L1005.0 248.6 L1006.5 246.2 L1008.0 243.5 L1009.5 242.5 L1011.0 243.7 L1012.5 246.0 L1014.0 247.3 L1015.5 246.9 L1017.0 245.7 L1018.5 245.5 L1020.0 247.0 L1021.5 247.6 L1023.0 247.1 L1024.5 246.0 L1026.0 245.0 L1027.5 245.5 L1029.0 248.2 L1030.5 251.5 L1032.0 251.4 L1033.5 249.3 L1035.0 246.6 L1036.5 245.0 L1038.0 245.1 L1039.5 246.1 L1041.0 245.8 L1042.5 244.5 L1044.0 242.9 L1045.5 243.1 L1047.0 245.5 L1048.5 248.6 L1050.0 250.2 L1051.5 250.1 L1053.0 248.2 L1054.5 247.2 L1056.0 248.3 L1057.5 250.2 L1059.0 251.0 L1060.5 250.9 L1062.0 250.1 L1063.5 249.6 L1065.0 250.6 L1066.5 251.6 L1068.0 251.0 L1069.5 248.8 L1071.0 246.3 L1072.5 245.1 L1074.0 246.2 L1075.5 248.0 L1077.0 248.7 L1078.5 247.8 L1080.0 246.4 L1081.5 247.2 L1083.0 249.6 L1084.5 251.5 L1086.0 251.9 L1087.5 249.9 L1089.0 246.7 L1090.5 244.8" stroke="#EDB120"/>
<path d="M648.0 254.3 L649.0 230.0 L650.0 195.0 L651.0 170.0 L651.5 162.3 L652.8 155.0 L654.2 148.6 L656.0 135.0 L658.4 124.7 L660.5 112.0 L662.2 103.0 L663.5 96.0 L665.0 92.5 L666.2 91.2 L668.5 91.0 L671.3 88.8 L674.3 84.2 L678.8 79.7 L681.9 78.2 L684.9 81.2 L688.4 84.5 L692.1 96.7 L693.8 96.0 L696.1 108.1 L698.4 120.2 L700.7 129.3 L702.9 133.9 L705.2 135.4 L708.2 134.6 L711.3 136.2 L714.3 139.9 L717.3 141.5 L720.4 140.7 L722.0 143.0 L726.0 149.0 L730.0 154.0 L735.0 157.5 L736.5 159.5 L738.0 160.9 L739.5 161.3 L741.0 160.5 L742.5 160.3 L744.0 162.4 L745.5 166.0 L747.0 170.8 L748.5 174.4 L750.0 176.7 L751.5 179.3 L753.0 182.4 L754.5 186.4 L756.0 189.2 L757.5 190.1 L759.0 189.8 L760.5 190.0 L762.0 192.0 L763.5 195.3 L765.0 198.3 L766.5 199.2 L768.0 198.7 L769.5 197.6 L771.0 198.4 L772.5 199.9 L774.0 200.8 L775.5 200.0 L777.0 198.1 L778.5 196.4 L780.0 197.1 L781.5 199.0 L783.0 200.4 L784.5 199.9 L786.0 198.1 L787.5 195.7 L789.0 195.2 L790.5 196.9 L792.0 198.8 L793.5 199.5 L795.0 201.1 L796.5 203.1 L798.0 205.5 L799.5 208.7 L801.0 210.5 L802.5 208.7 L804.0 205.5 L805.5 203.0 L807.0 202.3 L808.5 204.1 L810.0 206.7 L811.5 207.7 L813.0 207.6 L814.5 207.9 L816.0 209.5 L817.5 212.4 L819.0 214.5 L820.5 214.9 L822.0 214.2 L823.5 214.1 L825.0 215.6 L826.5 218.0 L828.0 219.8 L829.5 219.3 L831.0 217.3 L832.5 216.0 L834.0 216.6 L835.5 218.6 L837.0 220.8 L838.5 221.4 L840.0 221.0 L841.5 221.3 L843.0 223.4 L844.5 226.1 L846.0 228.9 L847.5 230.1 L849.0 228.8 L850.5 227.6 L852.0 226.8 L853.5 227.2 L855.0 227.7 L856.5 227.7 L858.0 226.6 L859.5 226.8 L861.0 229.2 L862.5 232.7 L864.0 234.8 L865.5 235.1 L867.0 233.4 L868.5 231.5 L870.0 231.3 L871.5 232.0 L873.0 232.1 L874.5 230.9 L876.0 228.7 L877.5 227.1 L879.0 228.4 L880.5 231.1 L882.0 233.6 L883.5 234.6 L885.0 233.7 L886.5 233.0 L888.0 234.1 L889.5 237.6 L891.0 240.5 L892.5 241.8 L894.0 241.8 L895.5 242.2 L897.0 241.8 L898.5 242.5 L900.0 242.8 L901.5 240.8 L903.0 237.4 L904.5 234.8 L906.0 234.8 L907.5 236.1 L909.0 238.1 L910.5 238.8 L912.0 238.4 L913.5 239.4 L915.0 242.1 L916.5 245.6 L918.0 248.3 L919.5 249.0 L921.0 245.4 L922.5 242.4 L924.0 242.6 L925.5 244.3 L927.0 245.8 L928.5 246.0 L930.0 244.9 L931.5 243.3 L933.0 243.5 L934.5 245.0 L936.0 246.1 L937.5 245.3 L939.0 243.1 L940.5 241.3 L942.0 241.0 L943.5 242.2 L945.0 244.1 L946.5 244.3 L948.0 243.2 L949.5 242.7 L951.0 242.6 L952.5 243.3 L954.0 243.8 L955.5 243.5 L957.0 242.0 L958.5 241.7 L960.0 243.6 L961.5 246.7 L963.0 248.8 L964.5 248.9 L966.0 247.0 L967.5 244.5 L969.0 243.7 L970.5 244.4 L972.0 244.8 L973.5 243.9 L975.0 242.0 L976.5 241.0 L978.0 242.6 L979.5 245.6 L981.0 248.1 L982.5 248.9 L984.0 247.2 L985.5 245.1 L987.0 244.7 L988.5 245.7 L990.0 246.2 L991.5 246.5 L993.0 245.6 L994.5 245.4 L996.0 247.2 L997.5 250.2 L999.0 251.6 L1000.5 251.5 L1002.0 248.8 L1003.5 246.4 L1005.0 245.8 L1006.5 246.2 L1008.0 246.3 L1009.5 244.9 L1011.0 242.7 L1012.5 241.7 L1014.0 242.6 L1015.5 245.0 L1017.0 246.9 L1018.5 246.9 L1020.0 245.8 L1021.5 243.7 L1023.0 243.6 L1024.5 245.8 L1026.0 248.1 L1027.5 248.8 L1029.0 248.4 L1030.5 248.4 L1032.0 247.9 L1033.5 248.4 L1035.0 248.3 L1036.5 246.4 L1038.0 243.4 L1039.5 241.3 L1041.0 241.1 L1042.5 243.1 L1044.0 244.8 L1045.5 245.5 L1047.0 245.4 L1048.5 245.7 L1050.0 247.4 L1051.5 250.3 L1053.0 251.1 L1054.5 249.9 L1056.0 247.6 L1057.5 246.1 L1059.0 246.4 L1060.5 249.1 L1062.0 251.2 L1063.5 250.9 L1065.0 249.2 L1066.5 247.5 L1068.0 247.3 L1069.5 248.5 L1071.0 249.3 L1072.5 248.4 L1074.0 246.5 L1075.5 245.1 L1077.0 245.4 L1078.5 247.1 L1080.0 248.3 L1081.5 248.8 L1083.0 248.0 L1084.5 246.7 L1086.0 247.1 L1087.5 248.2 L1089.0 248.4 L1090.5 247.0" stroke="#0072BD"/>
<path d="M648.0 254.3 L648.7 200.0 L649.5 140.0 L650.2 110.0 L650.7 91.2 L651.3 97.6 L652.8 100.8 L654.1 95.5 L655.6 87.0 L657.7 78.5 L659.8 70.0 L661.8 63.0 L664.2 50.9 L666.6 36.4 L669.0 23.0 L672.2 17.5 L673.9 21.8 L675.6 36.4 L677.5 53.3 L679.5 67.9 L681.2 78.0 L682.4 85.0 L684.0 100.5 L687.0 112.7 L690.1 120.2 L693.1 124.0 L696.1 123.3 L699.2 119.5 L702.2 112.7 L705.2 110.4 L707.5 110.4 L709.8 115.7 L712.8 122.5 L715.8 129.3 L718.8 135.4 L721.9 139.9 L723.6 142.7 L727.0 149.0 L731.0 154.0 L735.0 158.0 L736.5 160.0 L738.0 160.4 L739.5 160.3 L741.0 160.4 L742.5 162.3 L744.0 166.2 L745.5 169.8 L747.0 173.1 L748.5 175.3 L750.0 177.5 L751.5 181.0 L753.0 184.6 L754.5 187.8 L756.0 188.7 L757.5 188.3 L759.0 188.4 L760.5 190.4 L762.0 194.1 L763.5 197.8 L765.0 200.0 L766.5 200.2 L768.0 200.2 L769.5 200.7 L771.0 202.5 L772.5 203.4 L774.0 202.2 L775.5 199.6 L777.0 197.3 L778.5 196.7 L780.0 198.4 L781.5 200.0 L783.0 200.1 L784.5 199.0 L786.0 198.1 L787.5 197.8 L789.0 199.0 L790.5 200.8 L792.0 201.4 L793.5 200.8 L795.0 202.3 L796.5 205.3 L798.0 208.3 L799.5 210.6 L801.0 210.4 L802.5 207.0 L804.0 204.0 L805.5 203.2 L807.0 204.1 L808.5 206.2 L810.0 207.9 L811.5 208.3 L813.0 209.0 L814.5 211.0 L816.0 213.8 L817.5 216.2 L819.0 216.3 L820.5 214.9 L822.0 213.9 L823.5 214.7 L825.0 216.9 L826.5 218.9 L828.0 219.3 L829.5 218.0 L831.0 216.8 L832.5 217.6 L834.0 220.0 L835.5 222.3 L837.0 223.3 L838.5 222.8 L840.0 222.5 L841.5 223.9 L843.0 226.5 L844.5 228.4 L846.0 229.1 L847.5 228.6 L849.0 227.4 L850.5 227.6 L852.0 228.3 L853.5 228.9 L855.0 228.5 L856.5 228.0 L858.0 227.7 L859.5 229.8 L861.0 233.5 L862.5 236.7 L864.0 236.9 L865.5 235.6 L867.0 233.4 L868.5 232.5 L870.0 232.9 L871.5 233.0 L873.0 231.5 L874.5 229.3 L876.0 227.9 L877.5 228.3 L879.0 231.4 L880.5 234.4 L882.0 235.9 L883.5 235.9 L885.0 235.4 L886.5 235.9 L888.0 237.7 L889.5 240.3 L891.0 241.1 L892.5 240.6 L894.0 240.5 L895.5 242.2 L897.0 243.1 L898.5 243.9 L900.0 243.2 L901.5 240.6 L903.0 238.2 L904.5 237.6 L906.0 239.0 L907.5 240.2 L909.0 240.5 L910.5 239.6 L912.0 238.9 L913.5 240.8 L915.0 244.0 L916.5 246.8 L918.0 247.8 L919.5 247.3 L921.0 244.2 L922.5 243.1 L924.0 245.2 L925.5 247.2 L927.0 247.8 L928.5 247.2 L930.0 246.6 L931.5 246.3 L933.0 247.4 L934.5 248.1 L936.0 247.1 L937.5 244.4 L939.0 242.0 L940.5 241.4 L942.0 242.3 L943.5 243.3 L945.0 244.2 L946.5 243.8 L948.0 243.6 L949.5 245.1 L951.0 246.7 L952.5 247.3 L954.0 246.3 L955.5 244.6 L957.0 242.9 L958.5 243.5 L960.0 246.0 L961.5 248.2 L963.0 248.5 L964.5 247.1 L966.0 245.6 L967.5 244.9 L969.0 245.9 L970.5 246.9 L972.0 246.5 L973.5 244.8 L975.0 243.6 L976.5 244.1 L978.0 246.8 L979.5 249.1 L981.0 249.6 L982.5 248.5 L984.0 246.4 L985.5 245.4 L987.0 245.9 L988.5 246.7 L990.0 246.0 L991.5 245.5 L993.0 245.6 L994.5 247.5 L996.0 251.0 L997.5 253.6 L999.0 253.6 L1000.5 252.8 L1002.0 250.1 L1003.5 248.6 L1005.0 248.5 L1006.5 248.1 L1008.0 246.1 L1009.5 243.3 L1011.0 241.3 L1012.5 241.9 L1014.0 244.4 L1015.5 247.1 L1017.0 248.2 L1018.5 247.6 L1020.0 247.2 L1021.5 246.8 L1023.0 247.9 L1024.5 249.6 L1026.0 249.9 L1027.5 248.8 L1029.0 248.1 L1030.5 248.9 L1032.0 249.3 L1033.5 249.3 L1035.0 247.9 L1036.5 245.1 L1038.0 242.9 L1039.5 242.9 L1041.0 244.5 L1042.5 246.7 L1044.0 247.3 L1045.5 246.9 L1047.0 246.9 L1048.5 248.2 L1050.0 250.5 L1051.5 252.5 L1053.0 251.3 L1054.5 248.4 L1056.0 246.2 L1057.5 246.1 L1059.0 247.9 L1060.5 250.8 L1062.0 252.1 L1063.5 251.1 L1065.0 250.3 L1066.5 250.5 L1068.0 251.6 L1069.5 252.4 L1071.0 251.4 L1072.5 248.8 L1074.0 246.6 L1075.5 246.0 L1077.0 247.0 L1078.5 248.1 L1080.0 247.8 L1081.5 247.3 L1083.0 247.1 L1084.5 247.9 L1086.0 250.1 L1087.5 251.5 L1089.0 250.7 L1090.5 248.3" stroke="#7E2F8E"/>
<path d="M648.0 254.3 L648.5 220.0 L649.2 140.0 L649.8 112.5 L650.2 87.0 L651.3 79.6 L653.4 80.6 L654.5 76.4 L655.6 70.0 L657.0 67.0 L659.3 63.5 L661.0 60.6 L663.0 48.5 L665.4 36.4 L667.8 24.2 L670.2 15.8 L673.2 12.6 L675.1 15.8 L676.3 24.2 L677.5 38.8 L678.7 53.3 L680.5 70.0 L682.0 80.0 L683.6 88.0 L684.0 105.1 L685.5 114.2 L687.8 121.0 L690.8 123.3 L693.8 122.5 L696.9 117.2 L699.9 108.1 L702.9 102.8 L705.2 102.1 L707.5 104.3 L709.8 109.6 L712.0 115.7 L714.3 123.3 L716.6 130.8 L719.6 136.9 L722.6 141.5 L723.6 148.2 L727.3 153.6 L730.9 159.1 L734.5 162.7 L738.2 165.5 L739.7 167.2 L741.2 166.9 L742.7 165.9 L744.2 166.4 L745.7 168.6 L747.2 173.5 L748.7 177.6 L750.2 180.1 L751.7 181.7 L753.2 183.6 L754.7 186.9 L756.2 190.6 L757.7 193.2 L759.2 194.1 L760.7 194.3 L762.2 195.4 L763.7 198.3 L765.2 201.6 L766.7 203.3 L768.2 202.8 L769.7 200.7 L771.2 199.7 L772.7 200.0 L774.2 201.1 L775.7 201.4 L777.2 200.3 L778.7 198.5 L780.2 198.6 L781.7 200.4 L783.2 202.8 L784.7 203.9 L786.2 202.9 L787.7 200.0 L789.2 198.0 L790.7 198.9 L792.2 200.7 L793.7 202.4 L795.2 204.1 L796.7 205.3 L798.2 206.1 L799.7 208.7 L801.2 210.9 L802.7 210.8 L804.2 208.8 L805.7 206.4 L807.2 205.0 L808.7 206.8 L810.2 209.9 L811.7 211.9 L813.2 212.2 L814.7 211.4 L816.2 211.2 L817.7 212.9 L819.2 215.1 L820.7 216.4 L822.2 216.5 L823.7 216.1 L825.2 216.7 L826.7 219.0 L828.2 221.9 L829.7 223.0 L831.2 222.1 L832.7 220.4 L834.2 219.8 L835.7 220.9 L837.2 223.1 L838.7 224.3 L840.2 224.1 L841.7 223.5 L843.2 224.0 L844.7 226.0 L846.2 229.5 L847.7 232.2 L849.2 231.9 L850.7 230.7 L852.2 229.2 L853.7 229.3 L855.2 230.8 L856.7 232.0 L858.2 231.3 L859.7 230.7 L861.2 231.4 L862.7 233.5 L864.2 235.6 L865.7 236.8 L867.2 235.3 L868.7 233.1 L870.2 231.9 L871.7 232.4 L873.2 233.5 L874.7 234.2 L876.2 233.2 L877.7 231.6 L879.2 231.8 L880.7 233.6 L882.2 236.3 L883.7 237.9 L885.2 237.1 L886.7 235.3 L888.2 235.0 L889.7 237.6 L891.2 241.0 L892.7 243.7 L894.2 244.8 L895.7 245.0 L897.2 243.9 L898.7 244.5 L900.2 245.6 L901.7 244.8 L903.2 242.0 L904.7 238.8 L906.2 237.1 L907.7 237.2 L909.2 239.3 L910.7 240.7 L912.2 240.8 L913.7 241.3 L915.2 242.9 L916.7 246.0 L918.2 249.8 L919.7 251.8 L921.2 249.3 L922.7 246.5 L924.2 245.8 L925.7 246.8 L927.2 248.7 L928.7 249.6 L930.2 248.5 L931.7 245.8 L933.2 244.3 L934.7 244.8 L936.2 246.2 L937.7 246.7 L939.2 245.5 L940.7 243.6 L942.2 242.8 L943.7 244.0 L945.2 246.9 L946.7 248.6 L948.2 248.2 L949.7 247.0 L951.2 245.2 L952.7 244.7 L954.2 245.2 L955.7 245.6 L957.2 244.3 L958.7 243.5 L960.2 244.2 L961.7 246.9 L963.2 249.8 L964.7 251.5 L966.2 250.7 L967.7 248.2 L969.2 246.6 L970.7 246.9 L972.2 247.7 L973.7 247.7 L975.2 246.0 L976.7 244.1 L978.2 244.0 L979.7 245.8 L981.2 248.6 L982.7 250.4 L984.2 249.3 L985.7 247.0 L987.2 246.0 L988.7 247.0 L990.2 248.6 L991.7 250.6 L993.2 250.6 L994.7 250.0 L996.2 250.4 L997.7 252.1 L999.2 253.5 L1000.7 253.6 L1002.2 251.2 L1003.7 248.0 L1005.2 246.0 L1006.7 245.9 L1008.2 246.8 L1009.7 247.0 L1011.2 246.2 L1012.7 245.2 L1014.2 245.6 L1015.7 247.6 L1017.2 250.0 L1018.7 251.0 L1020.2 250.0 L1021.7 247.0 L1023.2 245.1 L1024.7 246.3 L1026.2 248.7 L1027.7 250.4 L1029.2 250.7 L1030.7 250.2 L1032.2 248.8 L1033.7 249.2 L1035.2 250.2 L1036.7 249.9 L1038.2 248.0 L1039.7 245.6 L1041.2 244.2 L1042.7 245.3 L1044.2 247.1 L1045.7 248.5 L1047.2 248.5 L1048.7 247.8 L1050.2 248.0 L1051.7 250.1 L1053.2 251.4 L1054.7 251.7 L1056.2 250.7 L1057.7 249.2 L1059.2 249.1 L1060.7 251.5 L1062.2 253.6 L1063.7 253.6 L1065.2 253.6 L1066.7 251.1 L1068.2 249.2 L1069.7 249.1 L1071.2 249.9 L1072.7 249.8 L1074.2 248.5 L1075.7 246.7 L1077.2 246.2 L1078.7 247.6 L1080.2 250.1 L1081.7 252.3 L1083.2 252.6 L1084.7 251.0 L1086.2 250.3 L1087.7 250.4 L1089.2 250.8 L1090.7 250.0" stroke="#77AC30"/>
<path d="M648.0 254.3 L648.0 235.0 L648.2 222.0 L648.9 215.0 L649.4 212.7 L650.6 195.8 L651.8 185.0 L653.0 177.2 L654.3 181.3 L655.6 182.7 L658.3 171.8 L659.7 166.3 L661.8 165.5 L664.2 169.1 L666.6 164.2 L669.0 163.0 L671.5 164.2 L673.9 158.2 L676.3 157.0 L678.7 159.4 L680.0 157.0 L682.7 151.8 L685.5 153.6 L688.2 152.7 L690.9 152.7 L693.6 150.9 L696.4 145.5 L696.9 146.0 L699.2 139.9 L701.4 136.9 L704.5 136.2 L708.2 136.2 L711.3 136.9 L714.3 134.6 L717.3 132.4 L719.6 131.6 L721.9 135.4 L724.0 138.4 L725.5 140.0 L728.2 142.7 L730.9 145.5 L733.6 147.3 L736.4 150.9 L738.6 155.5 L742.3 159.1 L745.0 162.7 L747.7 167.3 L750.5 165.5 L753.2 163.6 L755.9 166.4 L758.6 170.0 L762.3 171.8 L765.9 173.6 L769.5 174.5 L772.3 176.4 L775.0 180.0 L777.7 185.5 L780.5 188.2 L784.1 189.1 L787.7 190.9 L791.4 194.5 L795.0 198.5 L795.6 202.4 L799.2 198.8 L802.9 197.6 L806.5 197.6 L808.9 200.0 L812.6 204.8 L816.2 209.7 L819.8 209.7 L823.5 212.1 L827.1 212.1 L830.8 212.1 L835.6 213.3 L839.2 214.5 L842.9 217.0 L845.0 219.8 L847.9 222.7 L850.7 220.8 L853.6 220.8 L856.5 226.5 L860.3 229.4 L864.1 230.3 L867.9 229.4 L873.6 227.4 L877.4 229.4 L881.3 232.2 L886.0 233.2 L890.8 235.1 L894.6 238.9 L898.4 236.0 L902.3 233.2 L906.1 232.2 L909.9 234.1 L913.7 240.8 L917.5 239.8 L921.3 237.0 L925.2 239.8 L929.0 241.8 L932.8 240.8 L936.6 238.9 L942.3 237.0 L946.1 239.8 L950.0 240.8 L954.7 237.9 L958.5 239.5 L962.0 243.1 L965.5 241.3 L969.1 239.5 L972.6 239.0 L976.1 239.0 L979.6 241.3 L983.1 241.3 L986.6 240.1 L990.1 242.2 L993.7 245.7 L997.2 248.3 L1000.7 243.9 L1004.2 240.4 L1006.8 239.0 L1009.5 241.3 L1013.0 244.8 L1016.5 247.5 L1020.0 246.6 L1023.5 248.3 L1027.1 246.6 L1030.6 244.8 L1034.1 242.2 L1037.6 241.3 L1041.1 242.2 L1044.6 245.7 L1048.1 250.1 L1051.7 250.1 L1055.2 247.5 L1058.7 245.7 L1062.2 248.3 L1065.7 250.1 L1069.2 246.6 L1072.7 243.1 L1076.3 241.3 L1079.8 242.2 L1083.3 244.8 L1086.8 243.1 L1090.3 242.2 L1091.0 242.0" stroke="#4DBEEE"/>
<path d="M648.0 254.3 L648.2 220.0 L648.4 188.5 L648.7 163.0 L650.0 166.0 L651.3 167.3 L652.7 161.0 L653.6 155.0 L654.6 150.5 L656.9 150.0 L658.4 143.0 L659.9 135.3 L662.2 129.2 L665.2 127.0 L668.0 127.7 L670.2 127.0 L672.7 122.1 L676.3 118.5 L679.9 113.6 L683.6 108.8 L684.0 105.1 L687.0 104.3 L690.1 106.6 L693.1 110.4 L696.1 111.9 L699.2 111.9 L702.2 112.7 L704.5 114.9 L706.7 118.7 L709.0 126.3 L710.5 132.4 L712.0 138.4 L713.5 144.5 L714.5 146.4 L716.4 151.8 L719.1 154.5 L721.8 153.6 L724.5 154.5 L727.3 153.6 L730.9 152.7 L734.5 154.5 L738.2 157.3 L742.3 161.8 L745.9 167.3 L748.6 172.7 L751.4 174.5 L754.1 177.3 L756.8 180.9 L760.5 185.5 L764.1 188.2 L767.7 189.1 L771.4 189.1 L774.1 190.9 L776.8 193.6 L779.5 197.3 L782.3 198.2 L785.0 197.3 L787.7 195.5 L790.5 198.2 L793.2 203.6 L796.8 207.3 L800.5 206.1 L804.1 204.8 L807.7 203.6 L811.4 207.3 L813.8 212.1 L817.4 212.1 L821.1 213.3 L824.7 215.8 L828.3 218.2 L832.0 218.2 L835.6 219.4 L839.2 221.8 L842.9 224.2 L845.0 225.0 L847.9 228.4 L850.7 229.4 L854.5 225.5 L858.4 228.4 L862.2 233.2 L866.0 234.1 L869.8 232.2 L873.6 229.4 L877.4 229.4 L881.3 232.2 L884.1 235.1 L887.9 235.1 L891.8 238.9 L895.6 244.6 L900.3 241.8 L904.2 237.9 L908.0 236.0 L911.8 237.9 L915.6 243.7 L919.4 249.4 L922.3 244.6 L926.1 244.6 L929.9 246.5 L934.7 244.6 L938.5 242.7 L943.3 240.8 L946.1 243.7 L950.0 246.5 L953.8 242.7 L955.0 243.1 L958.5 243.9 L962.0 246.6 L965.5 248.3 L969.1 245.7 L972.6 243.9 L976.1 243.1 L979.6 245.7 L983.1 248.3 L986.6 245.7 L990.1 243.9 L993.7 247.5 L997.2 251.8 L1000.7 252.7 L1004.2 248.3 L1007.7 243.1 L1010.4 240.8 L1013.0 242.2 L1016.5 245.7 L1020.0 247.5 L1023.5 244.8 L1027.1 247.5 L1030.6 251.0 L1034.1 247.5 L1037.6 243.9 L1041.1 242.2 L1044.6 243.1 L1048.1 247.5 L1051.7 250.1 L1055.2 247.5 L1058.7 247.5 L1062.2 251.8 L1065.7 252.7 L1069.2 250.1 L1072.7 247.5 L1076.3 245.7 L1079.8 245.7 L1083.3 250.1 L1086.8 251.0 L1090.3 246.6 L1091.0 246.0" stroke="#A2142F"/></g>
</g>
<text x="66.2" y="51.1" text-anchor="end" class="tk">3</text>
<text x="66.2" y="121.2" text-anchor="end" class="tk">2</text>
<text x="66.2" y="191.4" text-anchor="end" class="tk">1</text>
<text x="66.4" y="282.7" text-anchor="end" class="tk">0</text>
<text x="151.8" y="282.7" text-anchor="middle" class="tk">0.5</text>
<text x="225.7" y="282.7" text-anchor="middle" class="tk">1.0</text>
<text x="299.5" y="282.7" text-anchor="middle" class="tk">1.5</text>
<text x="373.4" y="282.7" text-anchor="middle" class="tk">2.0</text>
<text x="447.2" y="282.7" text-anchor="middle" class="tk">2.5</text>
<text x="521.1" y="282.7" text-anchor="middle" class="tk">3.0</text>
<text x="636.2" y="51.1" text-anchor="end" class="tk">3</text>
<text x="636.2" y="121.2" text-anchor="end" class="tk">2</text>
<text x="636.2" y="191.4" text-anchor="end" class="tk">1</text>
<text x="636.4" y="282.7" text-anchor="end" class="tk">0</text>
<text x="721.8" y="282.7" text-anchor="middle" class="tk">1</text>
<text x="795.6" y="282.7" text-anchor="middle" class="tk">2</text>
<text x="869.4" y="282.7" text-anchor="middle" class="tk">3</text>
<text x="943.3" y="282.7" text-anchor="middle" class="tk">4</text>
<text x="1017.1" y="282.7" text-anchor="middle" class="tk">5</text>
<text x="1091.0" y="282.7" text-anchor="middle" class="tk">6</text>
<line x1="383.9" y1="34.4" x2="427.1" y2="34.4" stroke="#4DBEEE" stroke-width="2.2"/>
<text x="437.7" y="40.7" class="lg">0.41 ms<tspan class="sup" dx="0.6" dy="-6.8" font-size="17">−</tspan><tspan class="sup" dx="1.2" font-size="13">2</tspan></text>
<line x1="383.9" y1="55.0" x2="427.1" y2="55.0" stroke="#A2142F" stroke-width="2.2"/>
<text x="437.7" y="61.3" class="lg">0.61 ms<tspan class="sup" dx="0.6" dy="-6.8" font-size="17">−</tspan><tspan class="sup" dx="1.2" font-size="13">2</tspan></text>
<line x1="383.9" y1="75.6" x2="427.1" y2="75.6" stroke="#0072BD" stroke-width="2.2"/>
<text x="437.7" y="81.9" class="lg">0.82 ms<tspan class="sup" dx="0.6" dy="-6.8" font-size="17">−</tspan><tspan class="sup" dx="1.2" font-size="13">2</tspan></text>
<line x1="383.9" y1="96.2" x2="427.1" y2="96.2" stroke="#D95319" stroke-width="2.2"/>
<text x="437.7" y="102.5" class="lg">1.02 ms<tspan class="sup" dx="0.6" dy="-6.8" font-size="17">−</tspan><tspan class="sup" dx="1.2" font-size="13">2</tspan></text>
<line x1="383.9" y1="116.8" x2="427.1" y2="116.8" stroke="#EDB120" stroke-width="2.2"/>
<text x="437.7" y="123.1" class="lg">1.23 ms<tspan class="sup" dx="0.6" dy="-6.8" font-size="17">−</tspan><tspan class="sup" dx="1.2" font-size="13">2</tspan></text>
<line x1="383.9" y1="137.4" x2="427.1" y2="137.4" stroke="#7E2F8E" stroke-width="2.2"/>
<text x="437.7" y="143.7" class="lg">1.43 ms<tspan class="sup" dx="0.6" dy="-6.8" font-size="17">−</tspan><tspan class="sup" dx="1.2" font-size="13">2</tspan></text>
<line x1="383.9" y1="158.0" x2="427.1" y2="158.0" stroke="#77AC30" stroke-width="2.2"/>
<text x="437.7" y="164.3" class="lg">1.64 ms<tspan class="sup" dx="0.6" dy="-6.8" font-size="17">−</tspan><tspan class="sup" dx="1.2" font-size="13">2</tspan></text>
<line x1="953.9" y1="34.4" x2="997.1" y2="34.4" stroke="#4DBEEE" stroke-width="2.2"/>
<text x="1007.7" y="40.7" class="lg">0.41 ms<tspan class="sup" dx="0.6" dy="-6.8" font-size="17">−</tspan><tspan class="sup" dx="1.2" font-size="13">2</tspan></text>
<line x1="953.9" y1="55.0" x2="997.1" y2="55.0" stroke="#A2142F" stroke-width="2.2"/>
<text x="1007.7" y="61.3" class="lg">0.61 ms<tspan class="sup" dx="0.6" dy="-6.8" font-size="17">−</tspan><tspan class="sup" dx="1.2" font-size="13">2</tspan></text>
<line x1="953.9" y1="75.6" x2="997.1" y2="75.6" stroke="#0072BD" stroke-width="2.2"/>
<text x="1007.7" y="81.9" class="lg">0.82 ms<tspan class="sup" dx="0.6" dy="-6.8" font-size="17">−</tspan><tspan class="sup" dx="1.2" font-size="13">2</tspan></text>
<line x1="953.9" y1="96.2" x2="997.1" y2="96.2" stroke="#D95319" stroke-width="2.2"/>
<text x="1007.7" y="102.5" class="lg">1.02 ms<tspan class="sup" dx="0.6" dy="-6.8" font-size="17">−</tspan><tspan class="sup" dx="1.2" font-size="13">2</tspan></text>
<line x1="953.9" y1="116.8" x2="997.1" y2="116.8" stroke="#EDB120" stroke-width="2.2"/>
<text x="1007.7" y="123.1" class="lg">1.23 ms<tspan class="sup" dx="0.6" dy="-6.8" font-size="17">−</tspan><tspan class="sup" dx="1.2" font-size="13">2</tspan></text>
<line x1="953.9" y1="137.4" x2="997.1" y2="137.4" stroke="#7E2F8E" stroke-width="2.2"/>
<text x="1007.7" y="143.7" class="lg">1.43 ms<tspan class="sup" dx="0.6" dy="-6.8" font-size="17">−</tspan><tspan class="sup" dx="1.2" font-size="13">2</tspan></text>
<line x1="953.9" y1="158.0" x2="997.1" y2="158.0" stroke="#77AC30" stroke-width="2.2"/>
<text x="1007.7" y="164.3" class="lg">1.64 ms<tspan class="sup" dx="0.6" dy="-6.8" font-size="17">−</tspan><tspan class="sup" dx="1.2" font-size="13">2</tspan></text>
<text x="2" y="24" class="pl">(<tspan font-style="italic" dy="1.2">a</tspan><tspan dy="-1.2" dx="1.3">)</tspan></text>
<text x="572.3" y="24" class="pl">(<tspan font-style="italic" dy="0.5">b</tspan><tspan dy="-0.5" dx="0.8">)</tspan></text>
<text x="299.5" y="321.6" text-anchor="middle" class="al"><tspan font-style="italic">t</tspan> (s)</text>
<text y="321.6" class="al"><tspan x="833.7" font-style="italic">t</tspan><tspan x="842.3" dy="-5" class="ast">*</tspan><tspan x="859.4" dy="5">(</tspan><tspan x="892.9">)</tspan></text><rect x="871.2" y="312.9" width="18.4" height="1.4" fill="#000"/>
<text transform="translate(32.2 131.7) rotate(-90)" text-anchor="middle" class="al"><tspan font-style="italic">F</tspan><tspan font-style="italic" class="sub" dy="5">mh</tspan><tspan dy="-5">(N)</tspan></text>
</svg>
</body></html>
